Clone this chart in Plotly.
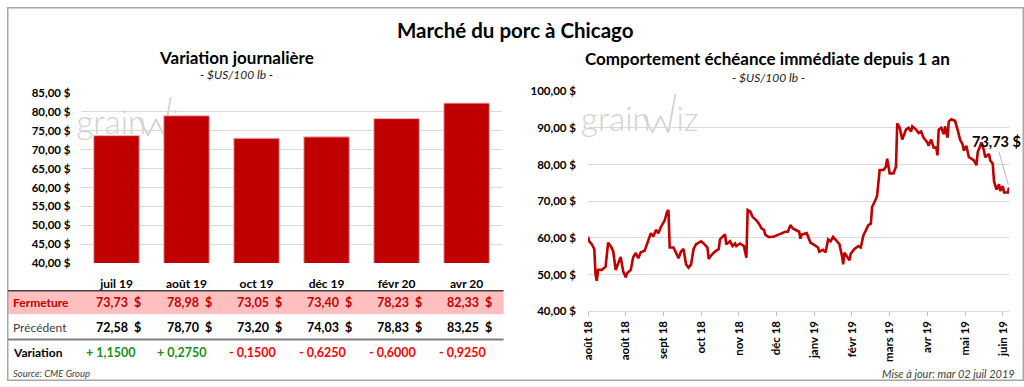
import plotly.graph_objects as go

# ---------------- data ----------------
CONTRACTS = ["juil 19", "août 19", "oct 19", "déc 19", "févr 20", "avr 20"]
CLOSE = [73.73, 78.98, 73.05, 73.40, 78.23, 82.33]
PREVIOUS = [72.58, 78.70, 73.20, 74.03, 78.83, 83.25]
VARIATION = [1.1500, 0.2750, -0.1500, -0.6250, -0.6000, -0.9250]

DATES = [
    "2018-08-01","2018-08-02","2018-08-04","2018-08-06","2018-08-07","2018-08-08","2018-08-09","2018-08-12",
    "2018-08-15","2018-08-17","2018-08-19","2018-08-21","2018-08-23","2018-08-25","2018-08-27","2018-08-29",
    "2018-08-31","2018-09-01","2018-09-04","2018-09-06","2018-09-08","2018-09-10","2018-09-12","2018-09-15",
    "2018-09-18","2018-09-20","2018-09-22","2018-09-24","2018-09-26","2018-09-28","2018-10-01","2018-10-03",
    "2018-10-04","2018-10-05","2018-10-08","2018-10-12","2018-10-14","2018-10-16","2018-10-18","2018-10-20",
    "2018-10-22","2018-10-24","2018-10-26","2018-10-30","2018-11-01","2018-11-04","2018-11-05","2018-11-07",
    "2018-11-10","2018-11-13","2018-11-14","2018-11-16","2018-11-18","2018-11-19","2018-11-22","2018-11-24",
    "2018-11-26","2018-11-27","2018-11-30","2018-12-03","2018-12-05","2018-12-06","2018-12-08","2018-12-10",
    "2018-12-13","2018-12-15","2018-12-17","2018-12-19","2018-12-20","2018-12-23","2018-12-27","2019-01-01",
    "2019-01-05","2019-01-07","2019-01-09","2019-01-11","2019-01-13","2019-01-16","2019-01-17","2019-01-18",
    "2019-01-22","2019-01-25","2019-01-28","2019-01-31","2019-02-01","2019-02-04","2019-02-06","2019-02-08",
    "2019-02-10","2019-02-12","2019-02-15","2019-02-17","2019-02-19","2019-02-20","2019-02-21","2019-02-23",
    "2019-02-25","2019-02-26","2019-03-01","2019-03-04","2019-03-06","2019-03-08","2019-03-10","2019-03-12",
    "2019-03-14","2019-03-15","2019-03-18","2019-03-19","2019-03-21","2019-03-24","2019-03-26","2019-03-27",
    "2019-03-29","2019-04-01","2019-04-03","2019-04-04","2019-04-06","2019-04-08","2019-04-11","2019-04-13",
    "2019-04-15","2019-04-16","2019-04-19","2019-04-21","2019-04-23","2019-04-25","2019-04-28","2019-04-29",
    "2019-05-01","2019-05-03","2019-05-05","2019-05-06","2019-05-07","2019-05-09","2019-05-11","2019-05-12",
    "2019-05-14","2019-05-15","2019-05-17","2019-05-20","2019-05-22","2019-05-24","2019-05-26","2019-05-27",
    "2019-05-29","2019-05-31","2019-06-02","2019-06-04","2019-06-06","2019-06-07","2019-06-10","2019-06-12",
    "2019-06-13","2019-06-16","2019-06-17","2019-06-19","2019-06-20","2019-06-22","2019-06-24","2019-06-25",
    "2019-06-27","2019-06-28","2019-07-01","2019-07-02",
]
PRICES = [
    60.3, 59.1, 58.3, 57.0, 50.0, 48.3, 51.3, 51.3, 52.2, 58.7, 57.8, 56.5, 51.3, 53.0, 54.8, 50.9, 49.3,
    50.4, 51.3, 54.8, 55.9, 54.5, 56.1, 56.5, 59.1, 61.3, 60.4, 62.2, 61.3, 63.0,
    64.8, 67.2, 67.6, 57.4, 57.4, 54.5, 56.3, 57.0, 52.8, 51.9, 52.8, 57.0, 58.3, 59.1,
    58.5, 57.4, 54.3, 55.3, 56.3, 57.0, 59.6, 60.4, 61.0, 58.3, 59.1, 57.8, 58.5, 57.8, 58.5,
    57.8, 54.6, 67.6, 67.2, 65.7, 64.8, 63.9, 62.6, 62.2, 60.9, 60.2, 60.4,
    61.1, 61.7, 61.7, 63.5, 62.6, 62.2, 61.7, 59.8, 60.9, 61.3, 58.7, 58.1, 57.4,
    56.3, 56.8, 56.1, 59.6, 59.1, 60.3, 59.1, 58.3, 55.2, 52.8, 56.0, 54.8, 53.9, 55.7,
    57.0, 57.8, 57.4, 60.6, 62.2, 63.5, 63.9, 68.4, 70.6, 71.5, 78.5, 78.5, 79.4, 81.6, 77.6,
    77.6, 79.4, 91.2, 90.0, 86.8, 89.5, 90.0, 89.0, 90.4, 89.5, 88.6, 89.0, 87.3, 86.0, 85.1,
    86.8, 84.6, 84.6, 82.5, 89.5, 90.0, 88.2, 90.4, 87.3, 91.7, 92.3, 91.9, 89.5, 86.8, 85.5, 83.8, 85.1, 82.0,
    81.6, 81.1, 79.8, 83.3, 86.0, 83.8, 82.0, 82.9, 81.1, 80.2, 75.4, 73.2, 74.6, 72.8, 74.1, 72.4,
    72.4, 73.73,
]
X_TICKVALS = ["2018-08-01", "2018-08-31", "2018-09-30", "2018-10-30", "2018-11-29", "2018-12-29",
              "2019-01-28", "2019-02-27", "2019-03-29", "2019-04-28", "2019-05-28", "2019-06-27"]
X_TICKTEXT = ["août 18", "août 18", "sept 18", "oct 18", "nov 18", "déc 18",
              "janv 19", "févr 19", "mars 19", "avr 19", "mai 19", "juin 19"]

# ---------------- style ----------------
W, H = 1024, 387
FONT = "Lato"
RED = "#C00000"
GRID = "#D9D9D9"
WM = "#D2D2D2"


def px(v):
    return v / W


def py(v):
    return 1 - v / H


def fr(v, d=2):
    return f"{v:.{d}f}".replace(".", ",")


fig = go.Figure()

# watermark layer (first subplot, so it is drawn beneath the charts)
LOGO_ORIGINS = [(70, 3), (578, 0)]
LOGO_CHECK_X = [63, 72, 80, 88, 95]
LOGO_CHECK_Y = [112, 130, 113, 130, 90]
for ox, oy in LOGO_ORIGINS:
    fig.add_trace(go.Scatter(x=[ox], y=[120 + oy], mode="text", text=["grain"],
                             textposition="middle right",
                             textfont=dict(family=FONT, size=33, color=WM, weight=300),
                             xaxis="x", yaxis="y", hoverinfo="skip", showlegend=False))
    fig.add_trace(go.Scatter(x=[ox + 96], y=[120 + oy], mode="text", text=["iz"],
                             textposition="middle right",
                             textfont=dict(family=FONT, size=33, color=WM, weight=300),
                             xaxis="x", yaxis="y", hoverinfo="skip", showlegend=False))
    fig.add_trace(go.Scatter(x=[ox + c for c in LOGO_CHECK_X], y=[oy + c for c in LOGO_CHECK_Y],
                             mode="lines", line=dict(color=WM, width=1.8),
                             xaxis="x", yaxis="y", hoverinfo="skip", showlegend=False))

# left: bars
fig.add_trace(go.Bar(x=CONTRACTS, y=CLOSE, marker=dict(color=RED, line=dict(color="#F2B8B8", width=1)),
                     xaxis="x2", yaxis="y2", showlegend=False))

# right: line
fig.add_trace(go.Scatter(x=DATES, y=PRICES, mode="lines", line=dict(color=RED, width=2.6),
                         xaxis="x3", yaxis="y3", showlegend=False))

shapes = []
annotations = []

# border
shapes.append(dict(type="rect", xref="paper", yref="paper", x0=px(0.75), x1=px(W - 0.75),
                   y0=py(H - 0.75), y1=py(0.75), line=dict(color="#A6A6A6", width=1.5), layer="above"))

# table
shapes.append(dict(type="rect", xref="paper", yref="paper", x0=px(1), x1=px(500), y0=py(318), y1=py(294),
                   fillcolor="#FFBFBF", line=dict(width=0), layer="below"))
shapes.append(dict(type="line", xref="paper", yref="paper", x0=px(1), x1=px(500), y0=py(293.5), y1=py(293.5),
                   line=dict(color="#404040", width=1.5)))
shapes.append(dict(type="line", xref="paper", yref="paper", x0=px(1), x1=px(500), y0=py(344), y1=py(344),
                   line=dict(color="#808080", width=2)))

row_y = {"f": py(306), "p": py(332), "v": py(358)}
annotations += [
    dict(text="<b>Fermeture</b>", x=px(4), y=row_y["f"], font=dict(color=RED, size=12)),
    dict(text="Précédent", x=px(4), y=row_y["p"], font=dict(color="#404040", size=12)),
    dict(text="<b>Variation</b>", x=px(4), y=row_y["v"], font=dict(color="#000000", size=12)),
]
for a in annotations:
    a.update(xref="paper", yref="paper", xanchor="left", yanchor="middle", showarrow=False)

for c, cl, pv, var in zip(CONTRACTS, CLOSE, PREVIOUS, VARIATION):
    annotations.append(dict(text=f"<b>{fr(cl)}\u00a0\u00a0$</b>", x=c, xref="x2", y=row_y["f"], yref="paper",
                            xanchor="right", yanchor="middle", xshift=27, showarrow=False,
                            font=dict(color=RED, size=12.5)))
    annotations.append(dict(text=f"<b>{fr(pv)}\u00a0\u00a0$</b>", x=c, xref="x2", y=row_y["p"], yref="paper",
                            xanchor="right", yanchor="middle", xshift=27, showarrow=False,
                            font=dict(color="#000000", size=12.5)))
    sign = "+" if var >= 0 else "-"
    annotations.append(dict(text=f"<b>{sign} {fr(abs(var), 4)}</b>", x=c, xref="x2", y=row_y["v"], yref="paper",
                            xanchor="right", yanchor="middle", xshift=21, showarrow=False,
                            font=dict(color="#169116" if var >= 0 else "#FF0000", size=12.5)))


def txt(t, x, y, size, color="#000000", anchor="center", italic=False):
    annotations.append(dict(text=t, x=px(x), y=py(y), xref="paper", yref="paper", xanchor=anchor,
                            yanchor="middle", showarrow=False,
                            font=dict(size=size, color=color, style="italic" if italic else "normal")))


txt("<b>Marché du porc à Chicago</b>", 512, 24, 20.5)
txt("<b>Variation journalière</b>", 231, 52, 17)
txt("- $US/100 lb -", 231, 70, 12, "#222222", italic=True)
txt("<b>Comportement échéance immédiate depuis 1 an</b>", 766, 53, 17)
txt("- $US/100 lb -", 767, 73, 12, "#222222", italic=True)
txt("Source: CME Group", 4, 379, 9.5, "#404040", anchor="left", italic=True)
txt("Mise à jour: mar 02 juil 2019", 1017, 379, 11, "#404040", anchor="right", italic=True)

# last value label
annotations.append(dict(text="<b>73,73 $</b>", x=DATES[-1], y=PRICES[-1], xref="x3", yref="y3",
                        ax=-13, ay=-46, showarrow=True, arrowhead=0, arrowwidth=0.8,
                        arrowcolor="#A6A6A6", font=dict(size=14.5, color="#000000"), standoff=3))

tickfont = dict(family=FONT, size=11.5, color="#000000", weight="bold")

fig.update_layout(
    width=W, height=H,
    margin=dict(l=0, r=0, t=0, b=0),
    paper_bgcolor="white", plot_bgcolor="rgba(0,0,0,0)",
    separators=", ",
    font=dict(family=FONT, color="#000000"),
    bargap=0.35,
    shapes=shapes,
    annotations=annotations,
    xaxis=dict(domain=[0, 1], range=[0, W], visible=False, fixedrange=True),
    yaxis=dict(domain=[0, 1], range=[H, 0], visible=False, fixedrange=True),
    xaxis2=dict(domain=[px(75), px(498)], type="category", showgrid=False, showline=False,
                ticks="", tickfont=dict(family=FONT, size=12, color="#000000", weight="bold"),
                ticklabelstandoff=12, anchor="y2"),
    yaxis2=dict(domain=[py(265), py(89)], range=[40, 85], dtick=5, tickformat=".2f", ticksuffix=" $",
                gridcolor=GRID, gridwidth=1, showline=False, zeroline=False, ticks="",
                tickfont=tickfont, ticklabelstandoff=10, anchor="x2"),
    xaxis3=dict(domain=[px(585), px(1009)], type="date", range=[DATES[0], DATES[-1]],
                tickvals=X_TICKVALS, ticktext=X_TICKTEXT, tickangle=-90,
                showgrid=False, showline=True, linecolor=GRID, linewidth=1,
                ticks="outside", ticklen=4, tickcolor="#BFBFBF",
                tickfont=tickfont, anchor="y3"),
    yaxis3=dict(domain=[py(315), py(87)], range=[40, 100], dtick=10, tickformat=".2f", ticksuffix=" $",
                gridcolor=GRID, gridwidth=1, showline=False, zeroline=False, ticks="",
                tickfont=tickfont, ticklabelstandoff=11, anchor="x3"),
)

fig.write_html("out.html", config={"displayModeBar": False},
               post_script="document.body.style.margin='0';document.body.style.overflow='hidden';")
